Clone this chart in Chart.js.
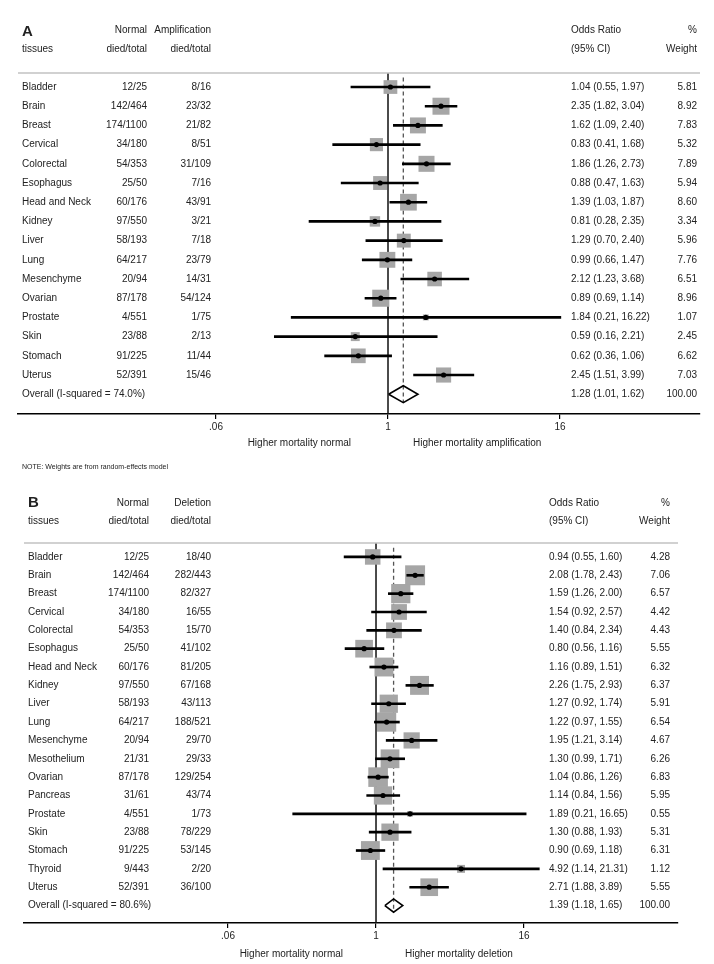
<!DOCTYPE html>
<html>
<head>
<meta charset="utf-8">
<script src="https://cdn.jsdelivr.net/npm/chart.js@4.4.1/dist/chart.umd.min.js"></script>
<style>
  html, body { margin: 0; padding: 0; background: #fff; }
  #wrap { width: 714px; height: 964px; position: relative; }
  .panel { position: absolute; left: 0; width: 714px; }
</style>
</head>
<body>
<div id="wrap">
  <div class="panel" style="top:0;height:480px"><canvas id="chartA"></canvas></div>
  <div class="panel" style="top:480px;height:484px"><canvas id="chartB"></canvas></div>
</div>
<script>
// ---- panel A : amplification ----
const tissuesA = ["Bladder", "Brain", "Breast", "Cervical", "Colorectal", "Esophagus", "Head and Neck", "Kidney",
  "Liver", "Lung", "Mesenchyme", "Ovarian", "Prostate", "Skin", "Stomach", "Uterus"];
const normalA = ["12/25", "142/464", "174/1100", "34/180", "54/353", "25/50", "60/176", "97/550",
  "58/193", "64/217", "20/94", "87/178", "4/551", "23/88", "91/225", "52/391"];
const amplificationA = ["8/16", "23/32", "21/82", "8/51", "31/109", "7/16", "43/91", "3/21",
  "7/18", "23/79", "14/31", "54/124", "1/75", "2/13", "11/44", "15/46"];
const orA = [1.04, 2.35, 1.62, 0.83, 1.86, 0.88, 1.39, 0.81, 1.29, 0.99, 2.12, 0.89, 1.84, 0.59, 0.62, 2.45];
const loA = [0.55, 1.82, 1.09, 0.41, 1.26, 0.47, 1.03, 0.28, 0.70, 0.66, 1.23, 0.69, 0.21, 0.16, 0.36, 1.51];
const hiA = [1.97, 3.04, 2.40, 1.68, 2.73, 1.63, 1.87, 2.35, 2.40, 1.47, 3.68, 1.14, 16.22, 2.21, 1.06, 3.99];
const weightA = [5.81, 8.92, 7.83, 5.32, 7.89, 5.94, 8.60, 3.34, 5.96, 7.76, 6.51, 8.96, 1.07, 2.45, 6.62, 7.03];
const overallA = [1.28, 1.01, 1.62]; // OR, lo, hi
const isqA = "74.0%";

// ---- panel B : deletion ----
const tissuesB = ["Bladder", "Brain", "Breast", "Cervical", "Colorectal", "Esophagus", "Head and Neck", "Kidney",
  "Liver", "Lung", "Mesenchyme", "Mesothelium", "Ovarian", "Pancreas", "Prostate", "Skin", "Stomach", "Thyroid", "Uterus"];
const normalB = ["12/25", "142/464", "174/1100", "34/180", "54/353", "25/50", "60/176", "97/550",
  "58/193", "64/217", "20/94", "21/31", "87/178", "31/61", "4/551", "23/88", "91/225", "9/443", "52/391"];
const deletionB = ["18/40", "282/443", "82/327", "16/55", "15/70", "41/102", "81/205", "67/168",
  "43/113", "188/521", "29/70", "29/33", "129/254", "43/74", "1/73", "78/229", "53/145", "2/20", "36/100"];
const orB = [0.94, 2.08, 1.59, 1.54, 1.40, 0.80, 1.16, 2.26, 1.27, 1.22, 1.95, 1.30, 1.04, 1.14, 1.89, 1.30, 0.90, 4.92, 2.71];
const loB = [0.55, 1.78, 1.26, 0.92, 0.84, 0.56, 0.89, 1.75, 0.92, 0.97, 1.21, 0.99, 0.86, 0.84, 0.21, 0.88, 0.69, 1.14, 1.88];
const hiB = [1.60, 2.43, 2.00, 2.57, 2.34, 1.16, 1.51, 2.93, 1.74, 1.55, 3.14, 1.71, 1.26, 1.56, 16.65, 1.93, 1.18, 21.31, 3.89];
const weightB = [4.28, 7.06, 6.57, 4.42, 4.43, 5.55, 6.32, 6.37, 5.91, 6.54, 4.67, 6.26, 6.83, 5.95, 0.55, 5.31, 6.31, 1.12, 5.55];
const overallB = [1.39, 1.18, 1.65];
const isqB = "80.6%";

// shared axis
const tickValues = [0.0625, 1, 16];
const tickLabels = [".06", "1", "16"];

const FONT = '"Liberation Sans", Arial, sans-serif';
Chart.defaults.font.family = FONT;

// draws the table columns round the plot
const forestText = {
  id: "forestText",
  afterDraw(chart) {
    const p = chart.options.plugins.forestText;
    const ctx = chart.ctx;
    const ys = chart.scales.y;
    const xs = chart.scales.x;
    const area = chart.chartArea;
    const c = p.cols;
    ctx.save();
    ctx.strokeStyle = "#c2c2c2";
    ctx.lineWidth = 1.5;
    ctx.beginPath();
    ctx.moveTo(area.left, area.top);
    ctx.lineTo(area.right, area.top);
    ctx.stroke();

    ctx.fillStyle = "#222";
    ctx.textBaseline = "middle";
    ctx.font = "bold 15px " + FONT;
    ctx.textAlign = "left";
    ctx.fillText(p.letter, c.label, p.letterY);

    ctx.font = "10px " + FONT;
    const put = (t, x, y, al) => { ctx.textAlign = al; ctx.fillText(t, x, y); };
    put("Normal", c.normal, p.head1, "right");
    put(p.otherName, c.other, p.head1, "right");
    put("Odds Ratio", c.or, p.head1, "left");
    put("%", c.weight, p.head1, "right");
    put("tissues", c.label, p.head2, "left");
    put("died/total", c.normal, p.head2, "right");
    put("died/total", c.other, p.head2, "right");
    put("(95% CI)", c.or, p.head2, "left");
    put("Weight", c.weight, p.head2, "right");

    const d = p.data;
    d.tissues.forEach((t, i) => {
      const y = ys.getPixelForValue(i);
      put(t, c.label, y, "left");
      put(d.normal[i], c.normal, y, "right");
      put(d.other[i], c.other, y, "right");
      put(d.or[i].toFixed(2) + " (" + d.lo[i].toFixed(2) + ", " + d.hi[i].toFixed(2) + ")", c.or, y, "left");
      put(d.w[i].toFixed(2), c.weight, y, "right");
    });
    const yo = ys.getPixelForValue(d.tissues.length);
    put("Overall (I-squared = " + d.isq + ")", c.label, yo, "left");
    put(d.overall[0].toFixed(2) + " (" + d.overall[1].toFixed(2) + ", " + d.overall[2].toFixed(2) + ")", c.or, yo, "left");
    put("100.00", c.weight, yo, "right");

    const x1 = xs.getPixelForValue(1);
    put("Higher mortality normal", x1 - p.sideGapL, p.sideY, "right");
    put("Higher mortality " + p.otherName.toLowerCase(), x1 + p.sideGapR, p.sideY, "left");

    if (p.note) {
      ctx.font = "7px " + FONT;
      put(p.note, c.label, p.noteY, "left");
    }
    ctx.restore();
  }
};

function makeForest(id, d, L) {
  const n = d.tissues.length;
  const rows = d.tissues.map((t, i) => i);
  const dots = rows.map(i => ({ x: d.or[i], y: i }));
  const ci = rows.map(i => ({ x: [d.lo[i], d.hi[i]], y: i }));
  const sq = rows.map(i => ({ x: d.or[i], y: i }));
  const sqRadius = d.w.map(w => L.boxK * Math.sqrt(w) / Math.SQRT2);
  const [est, lo, hi] = d.overall;
  const diamond = [
    { x: lo, y: n }, { x: est, y: n - L.diaH }, { x: hi, y: n }, { x: est, y: n + L.diaH }, { x: lo, y: n }
  ];

  return new Chart(document.getElementById(id), {
    type: "bar",
    data: {
      datasets: [
        { type: "line", data: dots, showLine: false, pointStyle: "circle", pointRadius: 2.6,
          pointBackgroundColor: "#000", pointBorderWidth: 0 },
        { type: "bar", indexAxis: "y", data: ci, backgroundColor: "#000", barThickness: 2, grouped: false },
        { type: "line", data: sq, showLine: false, pointStyle: "rect", pointRadius: sqRadius,
          pointBackgroundColor: "#a6a6a6", pointBorderWidth: 0 },
        { type: "line", data: diamond, borderColor: "#000", borderWidth: 1.6, pointRadius: 0, fill: false, tension: 0 },
        { type: "line", data: [{ x: est, y: -0.5 }, { x: est, y: n + L.diaH }], borderColor: "#555",
          borderWidth: 1.3, borderDash: [4, 3], pointRadius: 0 },
        { type: "line", data: [{ x: 1, y: L.yMin }, { x: 1, y: L.yMax }], borderColor: "#111",
          borderWidth: 1.5, pointRadius: 0 }
      ]
    },
    options: {
      responsive: true,
      maintainAspectRatio: false,
      animation: false,
      layout: { padding: L.pad },
      plugins: {
        legend: { display: false },
        tooltip: { enabled: false },
        forestText: {
          data: d, cols: L.cols, letter: L.letter, letterY: L.letterY, head1: L.head1, head2: L.head2,
          otherName: L.otherName, sideY: L.sideY, sideGapL: L.sideGapL, sideGapR: L.sideGapR,
          note: L.note, noteY: L.noteY
        }
      },
      scales: {
        x: {
          type: "logarithmic",
          offset: false,
          min: Math.pow(2, L.xLo), max: Math.pow(2, L.xHi),
          afterBuildTicks: s => { s.ticks = tickValues.map(v => ({ value: v })); },
          afterFit: s => { s.height = 20; },
          ticks: { autoSkip: false, maxRotation: 0, padding: 2, color: "#222", font: { size: 10 },
            callback: (v, i) => tickLabels[i] },
          grid: { offset: false, drawOnChartArea: false, drawTicks: true, tickLength: 5, color: "#000", lineWidth: 1.2 },
          border: { display: true, color: "#000", width: 1.5 }
        },
        y: { type: "linear", display: false, offset: false, grid: { offset: false },
          reverse: true, min: L.yMin, max: L.yMax }
      }
    },
    plugins: [forestText]
  });
}

makeForest("chartA",
  { tissues: tissuesA, normal: normalA, other: amplificationA, or: orA, lo: loA, hi: hiA, w: weightA,
    overall: overallA, isq: isqA },
  { pad: { left: 18, right: 14, top: 73, bottom: 46 }, yMin: -0.73, yMax: 17.03, xLo: -8.605, xHi: 7.256,
    cols: { label: 22, normal: 147, other: 211, or: 571, weight: 697 }, letter: "A", letterY: 32,
    head1: 30, head2: 49, otherName: "Amplification", boxK: 5.7, diaH: 0.44,
    sideY: 443, sideGapL: 37, sideGapR: 25, note: "NOTE: Weights are from random-effects model", noteY: 467 });

makeForest("chartB",
  { tissues: tissuesB, normal: normalB, other: deletionB, or: orB, lo: loB, hi: hiB, w: weightB,
    overall: overallB, isq: isqB },
  { pad: { left: 24, right: 36, top: 63, bottom: 21 }, yMin: -0.76, yMax: 19.95, xLo: -9.514, xHi: 8.162,
    cols: { label: 28, normal: 149, other: 211, or: 549, weight: 670 }, letter: "B", letterY: 23,
    head1: 23, head2: 41, otherName: "Deletion", boxK: 7.5, diaH: 0.36,
    sideY: 474, sideGapL: 33, sideGapR: 29, note: null, noteY: 0 });
</script>
</body>
</html>
